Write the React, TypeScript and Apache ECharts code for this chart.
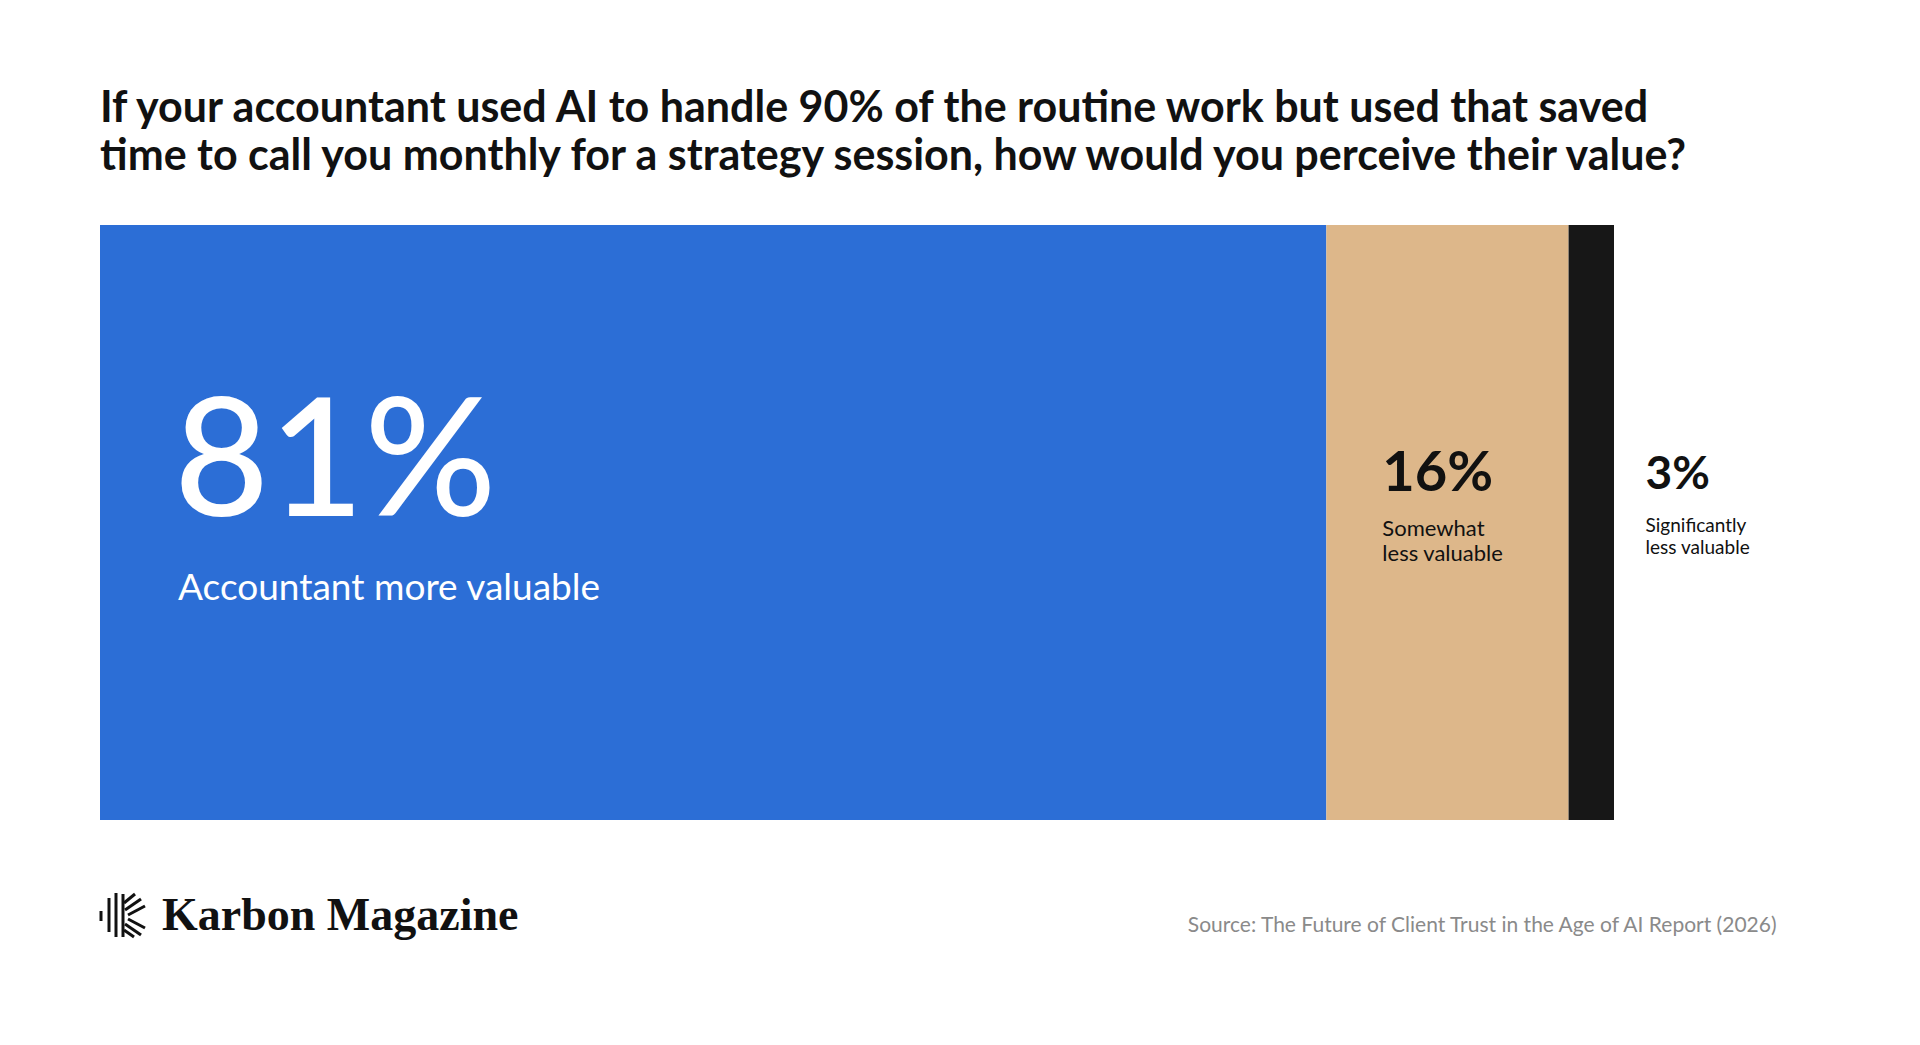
import React, { useEffect, useRef } from "react";
import * as echarts from "echarts";

const titleLines = [
  "If your accountant used AI to handle 90% of the routine work but used that saved",
  "time to call you monthly for a strategy session, how would you perceive their value?",
];
const categories = ["Perceived value"];
const segmentNames = ["Accountant more valuable", "Somewhat\nless valuable", "Significantly\nless valuable"];
const segmentValues = [81, 16, 3];
const segmentColors = ["#2C6ED6", "#DDB78A", "#171717"];
const sourceText = "Source: The Future of Client Trust in the Age of AI Report (2026)";
const brandText = "Karbon Magazine";

const FONT = "Lato, 'Noto Sans', sans-serif";

export default function App() {
  const ref = useRef<HTMLDivElement>(null);
  useEffect(() => {
    if (!ref.current) return;
    const chart = echarts.init(ref.current, undefined, { renderer: "svg" });

    const labelFor = (i: number) => {
      if (i === 0) {
        return {
          show: true,
          position: [74, 143],
          align: "left",
          verticalAlign: "top",
          formatter: (p: any) => `{v|${p.value}%}\n{n|${segmentNames[0]}}`,
          rich: {
            v: { fontFamily: FONT, fontSize: 164, fontWeight: 500, color: "#ffffff", lineHeight: 168 },
            n: { fontFamily: FONT, fontSize: 37, color: "#ffffff", lineHeight: 98, padding: [0, 0, 0, 4] },
          },
        };
      }
      if (i === 1) {
        const parts = segmentNames[1].split("\n");
        return {
          show: true,
          position: [56, 198],
          align: "left",
          verticalAlign: "top",
          formatter: (p: any) => `{v|${p.value}%}\n{s|${parts[0]}}\n{s|${parts[1]}}`,
          rich: {
            v: { fontFamily: FONT, fontSize: 56, fontWeight: "bold", color: "#111111", lineHeight: 92 },
            s: { fontFamily: FONT, fontSize: 22, color: "#111111", lineHeight: 25 },
          },
        };
      }
      const parts = segmentNames[2].split("\n");
      return {
        show: true,
        position: [77, 205],
        align: "left",
        verticalAlign: "top",
        formatter: (p: any) => `{v|${p.value}%}\n{s|${parts[0]}}\n{s|${parts[1]}}`,
        rich: {
          v: { fontFamily: FONT, fontSize: 46, fontWeight: "bold", color: "#111111", lineHeight: 83 },
          s: { fontFamily: FONT, fontSize: 19, color: "#111111", lineHeight: 22 },
        },
      };
    };

    const logoLine = (x1: number, y1: number, x2: number, y2: number) => ({
      type: "line",
      shape: { x1, y1, x2, y2 },
      style: { stroke: "#111111", lineWidth: 3 },
      silent: true,
    });

    chart.setOption({
      animation: false,
      backgroundColor: "#ffffff",
      title: {
        text: titleLines.join("\n"),
        left: 100,
        top: 81,
        padding: 0,
        textStyle: { fontFamily: FONT, fontSize: 43, fontWeight: "bold", color: "#111111", lineHeight: 48 },
      },
      grid: { left: 100, right: 306, top: 225, bottom: 225, containLabel: false },
      xAxis: { type: "value", min: 0, max: 100, show: false },
      yAxis: { type: "category", data: categories, show: false },
      series: segmentValues.map((v, i) => ({
        type: "bar",
        name: segmentNames[i],
        stack: "total",
        barWidth: "100%",
        data: [v],
        itemStyle: { color: segmentColors[i] },
        label: labelFor(i),
        silent: true,
      })),
      graphic: [
        logoLine(101, 911, 101, 921),
        logoLine(109, 898, 109, 932),
        logoLine(116, 893, 116, 937),
        logoLine(123, 894, 123, 937),
        logoLine(124, 903, 135, 894),
        logoLine(125, 910, 141, 899),
        logoLine(128, 915, 145, 906),
        logoLine(128, 919, 145, 928),
        logoLine(125, 924, 141, 935),
        logoLine(124, 930, 134, 937),
        {
          type: "text",
          left: 162,
          top: 891,
          style: {
            text: brandText,
            fontFamily: "'Liberation Serif', 'DejaVu Serif', serif",
            fontSize: 46,
            fontWeight: "bold",
            fill: "#111111",
          },
          silent: true,
        },
        {
          type: "text",
          right: 1920 - 1780,
          top: 913,
          style: {
            text: sourceText,
            fontFamily: FONT,
            fontSize: 21,
            fill: "#8a8a8a",
          },
          silent: true,
        },
      ],
    });
    return () => chart.dispose();
  }, []);
  return (
    <div
      ref={ref}
      style={{ position: "fixed", left: 0, top: 0, width: 1920, height: 1045, background: "#fff" }}
    />
  );
}
